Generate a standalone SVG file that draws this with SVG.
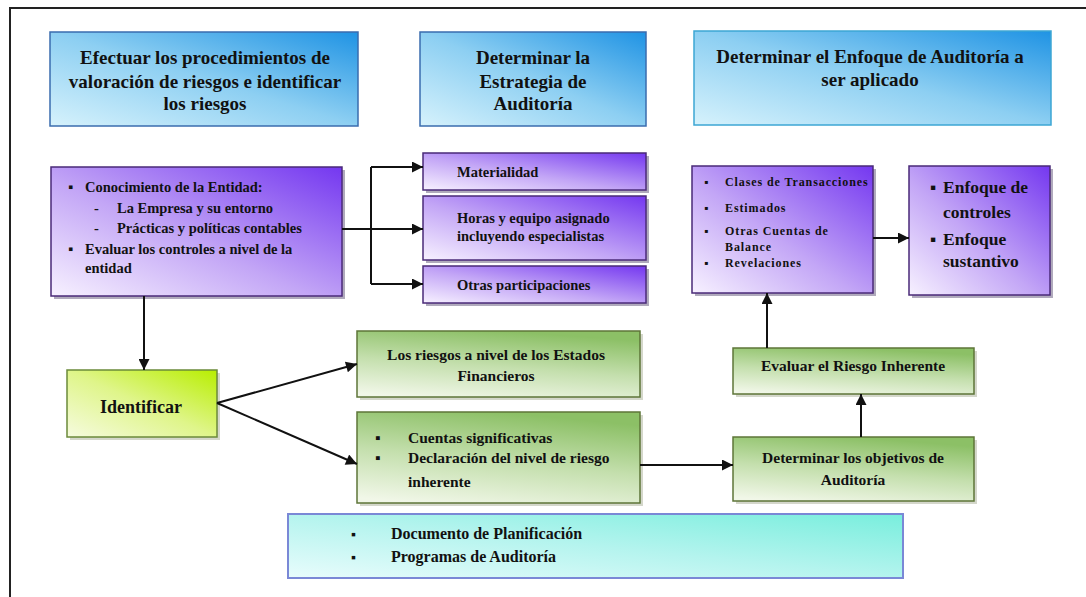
<svg xmlns="http://www.w3.org/2000/svg" width="1086" height="597" viewBox="0 0 1086 597">
<defs>
<linearGradient id="gHead" x1="0" y1="1" x2="1" y2="0"><stop offset="0" stop-color="#d6f2fc"/><stop offset="0.5" stop-color="#8dcff2"/><stop offset="1" stop-color="#1f93e4"/></linearGradient>
<linearGradient id="gPur" x1="0" y1="1" x2="1" y2="0"><stop offset="0" stop-color="#f7f1ff"/><stop offset="0.45" stop-color="#c3a6f6"/><stop offset="1" stop-color="#7437f0"/></linearGradient>
<linearGradient id="gGreen" x1="0.2" y1="1" x2="0.5" y2="0"><stop offset="0" stop-color="#f1f7e8"/><stop offset="0.5" stop-color="#c4dfad"/><stop offset="1" stop-color="#8cc066"/></linearGradient>
<linearGradient id="gLime" x1="0" y1="1" x2="1" y2="0"><stop offset="0" stop-color="#f6fbdf"/><stop offset="0.5" stop-color="#dff58a"/><stop offset="1" stop-color="#b8ee00"/></linearGradient>
<linearGradient id="gCyan" x1="0" y1="1" x2="1" y2="0"><stop offset="0" stop-color="#e8fcfc"/><stop offset="0.5" stop-color="#b4f4ee"/><stop offset="1" stop-color="#78eedd"/></linearGradient>
<marker id="arr" viewBox="0 0 10 10" refX="10" refY="5" markerWidth="6" markerHeight="5.5" orient="auto" markerUnits="strokeWidth"><path d="M0,0 L10,5 L0,10 z" fill="#111"/></marker>
<style>
text{font-family:"Liberation Serif","Times New Roman",serif;fill:#111;font-weight:bold;}
.hd{font-size:19px;text-anchor:middle;}
.t14{font-size:14.5px;}
.tg{font-size:15.5px;}
.t12{font-size:12px;letter-spacing:0.9px;}
.t17{font-size:17.5px;}
.mid{text-anchor:middle;}
.head{fill:url(#gHead);stroke:#3a6cae;stroke-width:1.5;}
.pur{fill:url(#gPur);stroke:#4a2a78;stroke-width:1.5;}
.grn{fill:url(#gGreen);stroke:#5d7538;stroke-width:1.5;}
.shP{fill:#8f86a0;opacity:0.7;}
.shG{fill:#b7bca8;opacity:0.6;}
.conn{stroke:#111;stroke-width:2;fill:none;}
</style>
</defs>
<rect x="0" y="0" width="1086" height="597" fill="#ffffff"/>
<rect x="10" y="8" width="1100" height="600" fill="none" stroke="#222" stroke-width="2"/>

<g id="header1">
<rect class="head" x="50" y="32" width="308" height="94"/>
<text class="hd" x="205" y="64">Efectuar los procedimientos de</text>
<text class="hd" x="205" y="88">valoración de riesgos e identificar</text>
<text class="hd" x="205" y="110">los riesgos</text>
</g>
<g id="header2">
<rect class="head" x="420" y="32" width="226" height="94"/>
<text class="hd" x="533" y="64">Determinar la</text>
<text class="hd" x="533" y="88">Estrategia de</text>
<text class="hd" x="533" y="110">Auditoría</text>
</g>
<g id="header3">
<rect class="head" x="694" y="31" width="357" height="94" style="stroke:#3ca6d4"/>
<text class="hd" x="870" y="63">Determinar el Enfoque de Auditoría a</text>
<text class="hd" x="870" y="86">ser aplicado</text>
</g>

<g id="conocimiento">
<rect class="shP" x="54" y="170" width="291" height="129"/>
<rect class="pur" x="51" y="167" width="291" height="129"/>
<text class="t14" x="68" y="192">▪</text>
<text class="t14" x="85" y="192">Conocimiento de la Entidad:</text>
<text class="t14" x="94" y="213">-</text>
<text class="t14" x="117" y="213">La Empresa y su entorno</text>
<text class="t14" x="94" y="233">-</text>
<text class="t14" x="117" y="233">Prácticas y políticas contables</text>
<text class="t14" x="68" y="254">▪</text>
<text class="t14" x="85" y="254">Evaluar los controles a nivel de la</text>
<text class="t14" x="85" y="273">entidad</text>
</g>

<g id="materialidad">
<rect class="shP" x="426" y="156" width="223" height="37"/>
<rect class="pur" x="423" y="153" width="223" height="37"/>
<text class="t14" x="457" y="177">Materialidad</text>
</g>
<g id="horas">
<rect class="shP" x="426" y="199" width="223" height="64"/>
<rect class="pur" x="423" y="196" width="223" height="64"/>
<text class="t14" x="457" y="223">Horas y equipo asignado</text>
<text class="t14" x="457" y="241">incluyendo especialistas</text>
</g>
<g id="otras">
<rect class="shP" x="426" y="269" width="223" height="37"/>
<rect class="pur" x="423" y="266" width="223" height="37"/>
<text class="t14" x="457" y="290">Otras participaciones</text>
</g>

<g id="clases">
<rect class="shP" x="695" y="169" width="181" height="127"/>
<rect class="pur" x="692" y="166" width="181" height="127"/>
<text class="t12" x="704" y="186">▪</text>
<text class="t12" x="725" y="186">Clases de Transacciones</text>
<text class="t12" x="704" y="212">▪</text>
<text class="t12" x="725" y="212">Estimados</text>
<text class="t12" x="704" y="235">▪</text>
<text class="t12" x="725" y="235">Otras Cuentas de</text>
<text class="t12" x="725" y="251">Balance</text>
<text class="t12" x="704" y="267">▪</text>
<text class="t12" x="725" y="267">Revelaciones</text>
</g>
<g id="enfoque">
<rect class="shP" x="912" y="169" width="141" height="129"/>
<rect class="pur" x="909" y="166" width="141" height="129"/>
<text class="t17" x="930" y="193">▪</text>
<text class="t17" x="943" y="193">Enfoque de</text>
<text class="t17" x="943" y="218">controles</text>
<text class="t17" x="930" y="245">▪</text>
<text class="t17" x="943" y="245">Enfoque</text>
<text class="t17" x="943" y="267">sustantivo</text>
</g>

<g id="identificar">
<rect class="shG" x="70" y="373" width="150" height="67"/>
<rect x="67" y="370" width="150" height="67" fill="url(#gLime)" stroke="#6b8a3a" stroke-width="1.5"/>
<text x="141" y="413" class="mid" style="font-size:18px">Identificar</text>
</g>
<g id="riesgosEF">
<rect class="shG" x="360" y="334" width="283" height="66"/>
<rect class="grn" x="357" y="331" width="283" height="66"/>
<text class="tg mid" x="496" y="360">Los riesgos a nivel de los Estados</text>
<text class="tg mid" x="496" y="381">Financieros</text>
</g>
<g id="cuentas">
<rect class="shG" x="360" y="415" width="283" height="91"/>
<rect class="grn" x="357" y="412" width="283" height="91"/>
<text class="tg" x="375" y="443">▪</text>
<text class="tg" x="408" y="443">Cuentas significativas</text>
<text class="tg" x="375" y="463">▪</text>
<text class="tg" x="408" y="463">Declaración del nivel de riesgo</text>
<text class="tg" x="408" y="487">inherente</text>
</g>
<g id="evaluarRI">
<rect class="shG" x="736" y="351" width="241" height="46"/>
<rect class="grn" x="733" y="348" width="241" height="46"/>
<text class="tg mid" x="853" y="371">Evaluar el Riesgo Inherente</text>
</g>
<g id="objetivos">
<rect class="shG" x="736" y="440" width="241" height="64"/>
<rect class="grn" x="733" y="437" width="241" height="64"/>
<text class="tg mid" x="853" y="463">Determinar los objetivos de</text>
<text class="tg mid" x="853" y="485">Auditoría</text>
</g>

<g id="documentos">
<rect x="288" y="514" width="615" height="64" fill="url(#gCyan)" stroke="#7a88d6" stroke-width="2"/>
<text x="351" y="539" style="font-size:14px">▪</text>
<text x="391" y="539" style="font-size:16px">Documento de Planificación</text>
<text x="351" y="562" style="font-size:14px">▪</text>
<text x="391" y="562" style="font-size:16px">Programas de Auditoría</text>
</g>

<g id="connectors">
<path class="conn" d="M342,229 H371 M371,167 V284"/>
<path class="conn" d="M371,167 H423" marker-end="url(#arr)"/>
<path class="conn" d="M371,229 H423" marker-end="url(#arr)"/>
<path class="conn" d="M371,284 H423" marker-end="url(#arr)"/>
<path class="conn" d="M144,296 V370" marker-end="url(#arr)"/>
<path class="conn" d="M217,403 L357,364" marker-end="url(#arr)"/>
<path class="conn" d="M217,403 L357,464" marker-end="url(#arr)"/>
<path class="conn" d="M640,465 H733" marker-end="url(#arr)"/>
<path class="conn" d="M861,437 V394" marker-end="url(#arr)"/>
<path class="conn" d="M767,348 V293" marker-end="url(#arr)"/>
<path class="conn" d="M873,238 H909" marker-end="url(#arr)"/>
</g>
</svg>
